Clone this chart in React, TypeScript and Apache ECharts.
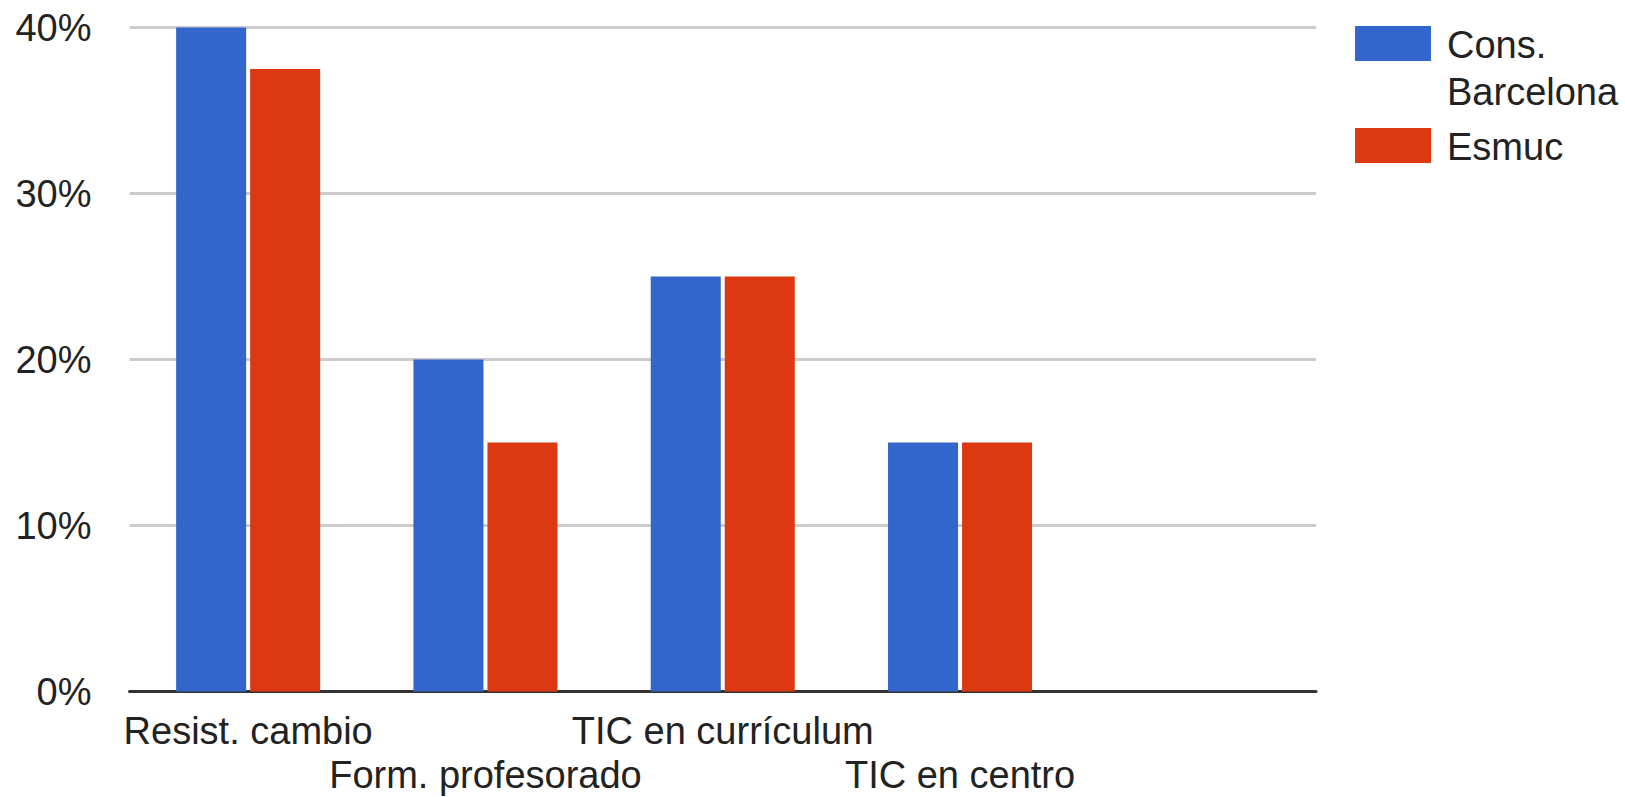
import React, { useEffect, useRef } from "react";
import * as echarts from "echarts";

const categories = ["Resist. cambio", "Form. profesorado", "TIC en currículum", "TIC en centro", ""];
const seriesNames = ["Cons. Barcelona", "Esmuc"];
const legendLabels = ["Cons.\nBarcelona", "Esmuc"];
const seriesColors = ["#3366cc", "#dc3912"];
const consBarcelona = [40, 20, 25, 15, null];
const esmuc = [37.5, 15, 25, 15, null];
const yTicks = { min: 0, max: 40, interval: 10 };

const FONT = "'Liberation Sans', Arial, sans-serif";

export default function App() {
  const ref = useRef<HTMLDivElement>(null);
  useEffect(() => {
    if (!ref.current) return;
    const chart = echarts.init(ref.current, undefined, { renderer: "svg" });
    const legendTops = [26, 128];
    const graphic: any[] = [];
    seriesNames.forEach((n, i) => {
      graphic.push({
        type: "rect",
        left: 1355,
        top: legendTops[i],
        shape: { width: 76, height: 35 },
        style: { fill: seriesColors[i] },
      });
      graphic.push({
        type: "text",
        x: 1447,
        y: legendTops[i] + 18.5 - 23.5,
        style: {
          text: legendLabels[i],
          fontSize: 38,
          lineHeight: 47,
          fontFamily: FONT,
          fill: "#222222",
          verticalAlign: "top",
          align: "left",
        },
      });
    });
    chart.setOption({
      animation: false,
      backgroundColor: "#ffffff",
      textStyle: { fontFamily: FONT },
      grid: {
        left: 129.5,
        right: 309,
        top: 27.5,
        bottom: 105.5,
        containLabel: false,
        outerBoundsMode: "none",
      },
      legend: { show: false },
      xAxis: {
        type: "category",
        data: categories,
        axisTick: { show: false },
        axisLine: { show: true, lineStyle: { color: "#333333", width: 3 } },
        axisLabel: {
          interval: 0,
          margin: 17,
          fontSize: 38,
          lineHeight: 44,
          color: "#222222",
          fontFamily: FONT,
          formatter: (v: string, i: number) => (i % 2 === 1 ? "\n" + v : v),
        },
      },
      yAxis: {
        type: "value",
        min: yTicks.min,
        max: yTicks.max,
        interval: yTicks.interval,
        axisLine: { show: false },
        axisTick: { show: false },
        splitLine: { lineStyle: { color: "#cccccc", width: 3 } },
        axisLabel: {
          margin: 38,
          fontSize: 38,
          color: "#222222",
          fontFamily: FONT,
          formatter: "{value}%",
        },
      },
      series: [
        {
          name: seriesNames[0],
          type: "bar",
          data: consBarcelona,
          itemStyle: { color: seriesColors[0] },
          barCategoryGap: "39.3%",
          barGap: "5.7%",
        },
        {
          name: seriesNames[1],
          type: "bar",
          data: esmuc,
          itemStyle: { color: seriesColors[1] },
          barCategoryGap: "39.3%",
          barGap: "5.7%",
        },
      ],
      graphic,
    });
    return () => chart.dispose();
  }, []);
  return (
    <div
      ref={ref}
      style={{ position: "fixed", left: 0, top: 0, width: "1625px", height: "797px", background: "#fff" }}
    />
  );
}
